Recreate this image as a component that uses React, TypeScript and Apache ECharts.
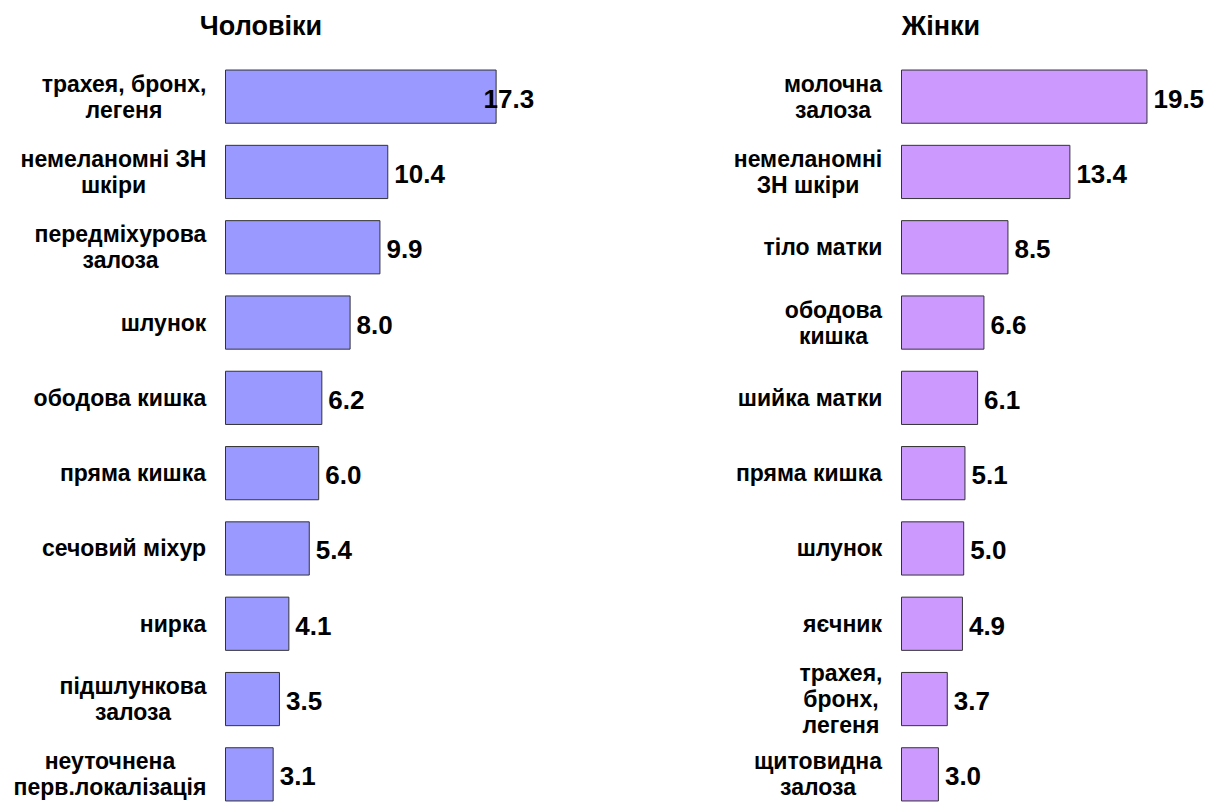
import React, { useEffect, useRef } from "react";
import * as echarts from "echarts";

const maleTitle = "Чоловіки";
const femaleTitle = "Жінки";

const maleCategories = [
  "трахея, бронх,\nлегеня",
  "немеланомні ЗН\nшкіри",
  "передміхурова\nзалоза",
  "шлунок",
  "ободова кишка",
  "пряма кишка",
  "сечовий міхур",
  "нирка",
  "підшлункова\nзалоза",
  "неуточнена\nперв.локалізація",
];
const maleValues = [17.3, 10.4, 9.9, 8.0, 6.2, 6.0, 5.4, 4.1, 3.5, 3.1];

const femaleCategories = [
  "молочна\nзалоза",
  "немеланомні\nЗН шкіри",
  "тіло матки",
  "ободова\nкишка",
  "шийка матки",
  "пряма кишка",
  "шлунок",
  "яєчник",
  "трахея,\nбронх,\nлегеня",
  "щитовидна\nзалоза",
];
const femaleValues = [19.5, 13.4, 8.5, 6.6, 6.1, 5.1, 5.0, 4.9, 3.7, 3.0];

const FONT = "'Liberation Sans', Arial, sans-serif";
const LABEL_SIZE = 23;
const LABEL_LH = 26;

function measure(text: string, size: number) {
  const c = document.createElement("canvas");
  const ctx = c.getContext("2d");
  if (!ctx) return text.length * size * 0.55;
  ctx.font = `bold ${size}px 'Liberation Sans', Arial, sans-serif`;
  return ctx.measureText(text).width;
}

function buildRich(cats: string[]) {
  const rich: Record<string, any> = {};
  cats.forEach((cat, i) => {
    const w = Math.max(...cat.split("\n").map((l) => measure(l, LABEL_SIZE)));
    rich["c" + i] = {
      width: Math.ceil(w) + 1,
      align: "center",
      color: "#000",
      fontFamily: FONT,
      fontWeight: "bold",
      fontSize: LABEL_SIZE,
      lineHeight: LABEL_LH,
    };
  });
  return rich;
}

export default function App() {
  const ref = useRef<HTMLDivElement>(null);
  useEffect(() => {
    if (!ref.current) return;
    const chart = echarts.init(ref.current, undefined, { renderer: "svg" });
    const gridTop = 59;
    const gridHeight = 753;
    const yAxisCommon = (cats: string[], gridIndex: number) => ({
      type: "category",
      gridIndex,
      data: cats,
      inverse: true,
      axisLine: { show: false },
      axisTick: { show: false },
      axisLabel: {
        margin: 18,
        color: "#000",
        fontFamily: FONT,
        fontWeight: "bold",
        fontSize: LABEL_SIZE,
        lineHeight: LABEL_LH,
        formatter: (v: string, i: number) =>
          v
            .split("\n")
            .map((l) => `{c${i}|${l}}`)
            .join("\n"),
        rich: buildRich(cats),
      },
    });
    const barSeries = (
      values: number[],
      color: string,
      idx: number,
      overlapFirst: boolean
    ) => ({
      type: "bar",
      xAxisIndex: idx,
      yAxisIndex: idx,
      barCategoryGap: "28%",
      data: values.map((v, i) =>
        overlapFirst && i === 0
          ? { value: v, label: { offset: [-19, 2] } }
          : { value: v }
      ),
      itemStyle: { color, borderColor: "#333333", borderWidth: 1 },
      label: {
        show: true,
        position: "right",
        distance: 6,
        offset: [0, 2],
        color: "#000",
        fontFamily: FONT,
        fontWeight: "bold",
        fontSize: 26,
        formatter: (p: any) => Number(p.value).toFixed(1),
      },
    });
    const titleStyle = {
      align: "center",
      verticalAlign: "middle",
      fontFamily: FONT,
      fontWeight: "bold",
      fontSize: 27,
      fill: "#000",
    };
    chart.setOption({
      animation: false,
      backgroundColor: "#fff",
      graphic: [
        { type: "text", x: 261, y: 26, style: { ...titleStyle, text: maleTitle } },
        { type: "text", x: 941, y: 26, style: { ...titleStyle, text: femaleTitle } },
      ],
      grid: [
        {
          left: 225,
          top: gridTop,
          width: 314,
          height: gridHeight,
          outerBoundsMode: "none",
          containLabel: false,
        },
        {
          left: 901,
          top: gridTop,
          width: 316,
          height: gridHeight,
          outerBoundsMode: "none",
          containLabel: false,
        },
      ],
      xAxis: [
        { type: "value", gridIndex: 0, min: 0, max: 20, show: false },
        { type: "value", gridIndex: 1, min: 0, max: 25, show: false },
      ],
      yAxis: [yAxisCommon(maleCategories, 0), yAxisCommon(femaleCategories, 1)],
      series: [
        barSeries(maleValues, "#9999FF", 0, true),
        barSeries(femaleValues, "#CC99FF", 1, false),
      ],
    });
    return () => chart.dispose();
  }, []);
  return (
    <div
      ref={ref}
      style={{
        position: "fixed",
        left: 0,
        top: 0,
        width: 1211,
        height: 802,
        overflow: "hidden",
      }}
    />
  );
}
